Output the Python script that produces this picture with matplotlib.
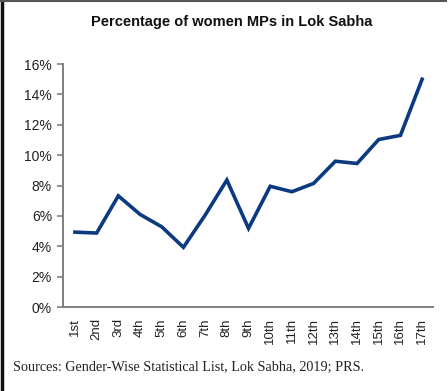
import matplotlib
matplotlib.use("Agg")
import matplotlib.pyplot as plt
from matplotlib.lines import Line2D
from matplotlib.ticker import FuncFormatter, MultipleLocator

sessions = ["1st", "2nd", "3rd", "4th", "5th", "6th", "7th", "8th", "9th",
            "10th", "11th", "12th", "13th", "14th", "15th", "16th", "17th"]
women_pct = [4.93, 4.87, 7.32, 6.1, 5.28, 3.93, 6.05, 8.36, 5.18,
             7.95, 7.59, 8.14, 9.6, 9.45, 11.03, 11.3, 15.0]

title = "Percentage of women MPs in Lok Sabha"
source = "Sources: Gender-Wise Statistical List, Lok Sabha, 2019; PRS."

sans = ["Liberation Sans Narrow", "Liberation Sans", "DejaVu Sans"]

fig = plt.figure(figsize=(4.48, 3.91), dpi=100)
ax = fig.add_axes([0.1406, 0.2148, 0.8259, 0.6215])

x = list(range(len(sessions)))
ax.plot(x, women_pct, color="#0b3a80", lw=2.6, solid_joinstyle="miter")

ax.set_xlim(-0.55, 16.5)
ax.set_ylim(0, 16)
ax.yaxis.set_major_locator(MultipleLocator(2))
ax.yaxis.set_major_formatter(FuncFormatter(lambda v, p: f"{v:.0f}%"))
ax.set_xticks(x)
ax.set_xticklabels(sessions, rotation=90, family=sans, fontsize=9.5)
for lab in ax.get_yticklabels():
    lab.set_family(sans)
    lab.set_fontsize(10)

for s in ["top", "right"]:
    ax.spines[s].set_visible(False)
for s in ["left", "bottom"]:
    ax.spines[s].set_color("#7f7f7f")
    ax.spines[s].set_linewidth(1.4)
ax.tick_params(axis="y", length=4, width=1.2, color="#7f7f7f", pad=4, labelcolor="#222222")
ax.tick_params(axis="x", length=0, pad=8, labelcolor="#222222")

fig.text(0.518, 0.945, title, ha="center", va="center", fontsize=10.5,
         fontweight="bold", family=sans, color="#111111")
fig.text(0.029, 0.059, source, ha="left", va="center", fontsize=10.2,
         family=["Liberation Serif", "DejaVu Serif"], color="#222222")

# screenshot frame edges
fig.add_artist(Line2D([0.004, 0.004], [0, 1], transform=fig.transFigure,
                      color="#111111", lw=2.5))
fig.add_artist(Line2D([0, 0.995], [0.998, 0.998], transform=fig.transFigure,
                      color="#555555", lw=1.5))

fig.savefig("out.png", dpi=100)
